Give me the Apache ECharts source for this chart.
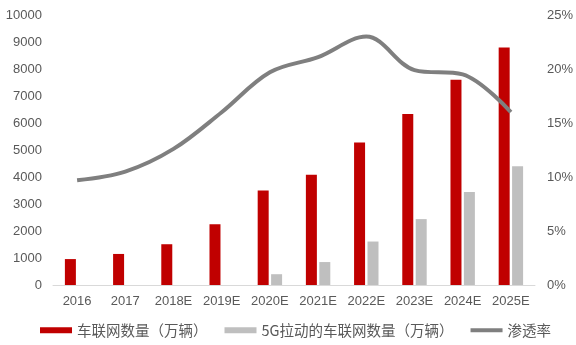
<!DOCTYPE html>
<html>
<head>
<meta charset="utf-8">
<script src="https://cdn.jsdelivr.net/npm/echarts@6/dist/echarts.min.js"></script>
<style>
  html, body { margin: 0; padding: 0; background: #ffffff; }
  #chart { width: 576px; height: 345px; }
</style>
</head>
<body>
<div id="chart"></div>
<script>
// Connected-vehicle volume forecast (10k units) and penetration rate
const categories = ['2016', '2017', '2018E', '2019E', '2020E', '2021E', '2022E', '2023E', '2024E', '2025E'];
const connectedCars = [960, 1150, 1510, 2250, 3500, 4080, 5280, 6330, 7600, 8800];
const connected5G = [null, null, null, null, 400, 850, 1610, 2440, 3440, 4400];
const penetrationRate = [9.7, 10.5, 12.6, 16.0, 19.7, 21.1, 23.0, 19.9, 19.5, 16.0];

const leftTicks = { min: 0, max: 10000, interval: 1000 };
const rightTicks = { min: 0, max: 25, interval: 5 };

const seriesNames = ['车联网数量（万辆）', '5G拉动的车联网数量（万辆）', '渗透率'];

const textColor = '#595959';
const font = "'Liberation Sans', Arial, sans-serif";
const cjkFont = "'Noto Sans CJK SC', 'Liberation Sans', sans-serif";

const chart = echarts.init(document.getElementById('chart'), null, { renderer: 'canvas' });

chart.setOption({
  animation: false,
  backgroundColor: '#ffffff',
  grid: { left: 53, right: 34, top: 15, bottom: 60, containLabel: false },
  legend: {
    data: [
      { name: seriesNames[0], icon: 'rect', itemStyle: { color: '#c00000' } },
      { name: seriesNames[1], icon: 'rect', itemStyle: { color: '#bfbfbf' } },
      { name: seriesNames[2], icon: 'path://M0,0H32V4H0Z', itemStyle: { color: '#7f7f7f' } }
    ],
    left: 40,
    top: 323,
    itemWidth: 32,
    itemHeight: 6,
    itemGap: 17,
    padding: 0,
    textStyle: { color: textColor, fontSize: 14.5, fontFamily: cjkFont }
  },
  xAxis: {
    type: 'category',
    data: categories,
    axisLine: { show: true, lineStyle: { color: '#d9d9d9', width: 1 } },
    axisTick: { show: false },
    axisLabel: { color: textColor, fontSize: 13, fontFamily: font, margin: 10, interval: 0 }
  },
  yAxis: [
    {
      type: 'value',
      min: leftTicks.min, max: leftTicks.max, interval: leftTicks.interval,
      axisLine: { show: false },
      axisTick: { show: false },
      splitLine: { show: false },
      axisLabel: { color: textColor, fontSize: 13, fontFamily: font, margin: 11, formatter: v => String(v) }
    },
    {
      type: 'value',
      min: rightTicks.min, max: rightTicks.max, interval: rightTicks.interval,
      axisLine: { show: false },
      axisTick: { show: false },
      splitLine: { show: false },
      axisLabel: { color: textColor, fontSize: 13, fontFamily: font, margin: 12, formatter: '{value}%' }
    }
  ],
  series: [
    {
      name: seriesNames[0],
      type: 'bar',
      data: connectedCars,
      barWidth: 11,
      barGap: '22%',
      itemStyle: { color: '#c00000' }
    },
    {
      name: seriesNames[1],
      type: 'bar',
      data: connected5G,
      barWidth: 11,
      barGap: '22%',
      itemStyle: { color: '#bfbfbf' }
    },
    {
      name: seriesNames[2],
      type: 'line',
      yAxisIndex: 1,
      data: penetrationRate,
      smooth: 0.35,
      symbol: 'none',
      lineStyle: { color: '#7f7f7f', width: 4 },
      itemStyle: { color: '#7f7f7f' }
    }
  ]
});
</script>
</body>
</html>
